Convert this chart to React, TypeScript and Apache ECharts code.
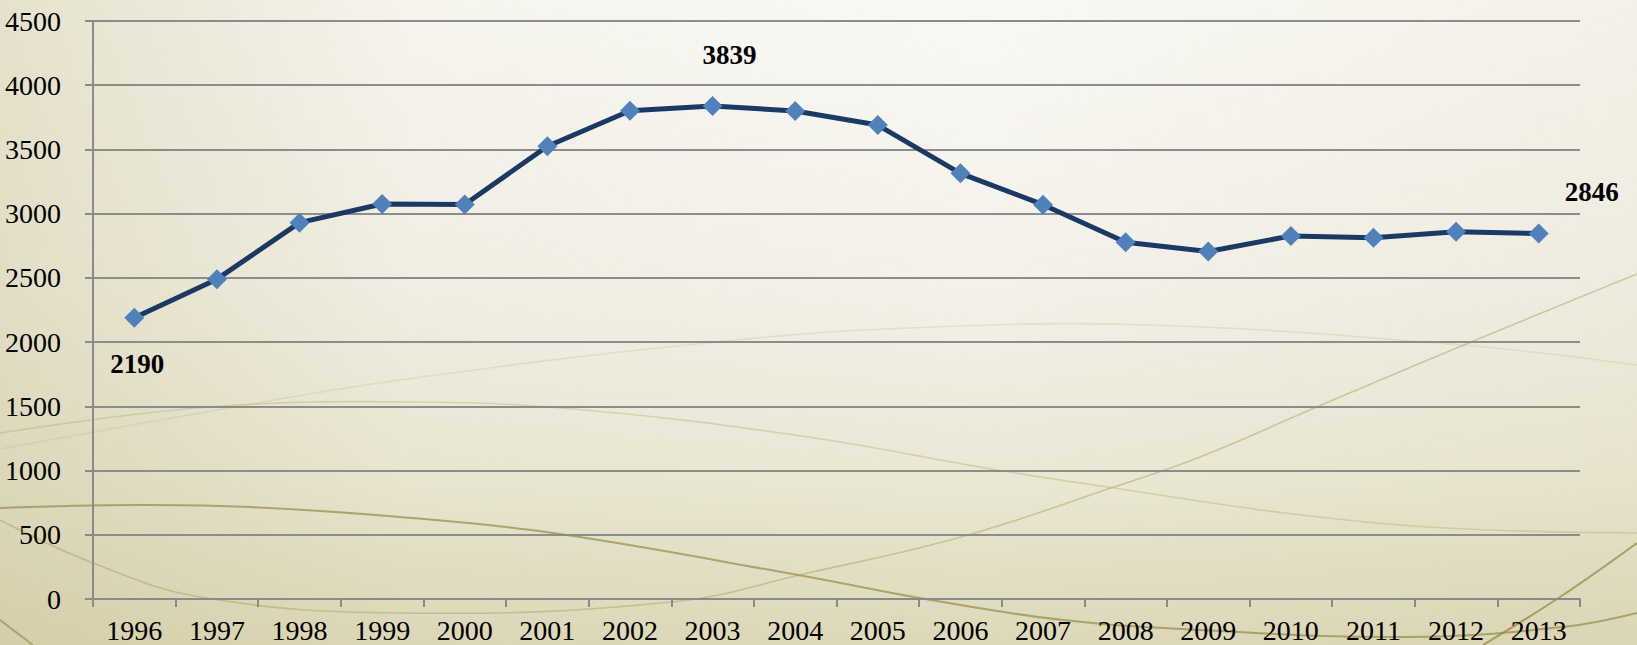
import React, { useEffect, useRef } from "react";
import * as echarts from "echarts";

const years: string[] = [
  "1996", "1997", "1998", "1999", "2000", "2001", "2002", "2003", "2004",
  "2005", "2006", "2007", "2008", "2009", "2010", "2011", "2012", "2013",
];
const values: number[] = [
  2190, 2490, 2930, 3075, 3071, 3525, 3801, 3839, 3799,
  3690, 3314, 3070, 2778, 2705, 2827, 2813, 2860, 2846,
];
const labelled: { [k: number]: number[] } = { 0: [3, 46], 7: [17, -51], 17: [53, -41] };
const yTicks = { min: 0, max: 4500, interval: 500 };

const W = 1637;
const H = 645;

const curves: { pts: number[][]; color: string; width: number }[] = [
  { pts: [[0, 508], [136, 505], [250, 507], [400, 517], [553, 533], [798, 575], [931, 600], [1063, 620], [1200, 630], [1407, 637], [1563, 627], [1637, 613]], color: "rgba(150,138,70,0.7)", width: 2 },
  { pts: [[0, 520], [93, 563], [200, 597], [400, 613], [672, 602], [808, 573], [961, 537], [1114, 487], [1200, 457], [1333, 400], [1500, 330], [1637, 274]], color: "rgba(165,155,90,0.45)", width: 1.6 },
  { pts: [[1483, 645], [1560, 597], [1637, 543]], color: "rgba(150,138,70,0.75)", width: 2 },
  { pts: [[0, 433], [209, 407], [418, 402], [584, 410], [808, 437], [997, 470], [1114, 488], [1285, 513], [1447, 528], [1637, 533]], color: "rgba(170,160,100,0.32)", width: 1.6 },
  { pts: [[0, 449], [200, 413], [400, 380], [706, 343], [910, 328], [1148, 325], [1462, 345], [1637, 365]], color: "rgba(180,170,120,0.22)", width: 1.6 },
  { pts: [[0, 620], [33, 645]], color: "rgba(150,138,70,0.65)", width: 2 },
];

export default function App() {
  const ref = useRef<HTMLDivElement>(null);
  useEffect(() => {
    document.body.style.margin = "0";
    const chart = echarts.init(ref.current!, null, { renderer: "svg" });
    const font = "'Liberation Serif', 'Times New Roman', serif";
    const option: any = {
      animation: false,
      backgroundColor: "transparent",
      graphic: [
        {
          type: "rect",
          z: -10,
          silent: true,
          shape: { x: 0, y: 0, width: W, height: H },
          style: {
            fill: new echarts.graphic.LinearGradient(0, 0, 0, 1, [
              { offset: 0, color: "#f9f8f4" },
              { offset: 0.45, color: "#f3f1e8" },
              { offset: 0.75, color: "#eae7d4" },
              { offset: 1, color: "#ddd8b8" },
            ]),
          },
        },
        {
          type: "rect",
          z: -9,
          silent: true,
          shape: { x: 0, y: 0, width: W, height: H },
          style: {
            fill: new echarts.graphic.LinearGradient(0, 0, 1, 0, [
              { offset: 0, color: "rgba(200,192,145,0.4)" },
              { offset: 0.25, color: "rgba(200,192,145,0.07)" },
              { offset: 0.6, color: "rgba(200,192,145,0)" },
              { offset: 1, color: "rgba(200,192,145,0.12)" },
            ]),
          },
        },
        ...curves.map((c) => ({
          type: "polyline",
          z: -8,
          silent: true,
          shape: { points: c.pts, smooth: 0.4 },
          style: { stroke: c.color, lineWidth: c.width, fill: "none" },
        })),
      ],
      grid: { left: 93, right: W - 1580, top: 21, bottom: H - 599, containLabel: false },
      xAxis: {
        type: "category",
        data: years,
        boundaryGap: true,
        axisLine: { show: true, lineStyle: { color: "#8a8a8a", width: 2 } },
        axisTick: { show: true, length: 8, inside: false, alignWithLabel: false, lineStyle: { color: "#8a8a8a", width: 2 } },
        axisLabel: { color: "#000", fontFamily: font, fontSize: 28, margin: 17, interval: 0 },
        splitLine: { show: false },
      },
      yAxis: {
        type: "value",
        min: yTicks.min,
        max: yTicks.max,
        interval: yTicks.interval,
        axisLine: { show: true, lineStyle: { color: "#8a8a8a", width: 2 } },
        axisTick: { show: true, length: 8, lineStyle: { color: "#8a8a8a", width: 2 } },
        axisLabel: { color: "#000", fontFamily: font, fontSize: 28, margin: 32, formatter: (v: number) => String(v) },
        splitLine: { show: true, lineStyle: { color: "#8c8c8c", width: 2 } },
      },
      series: [
        {
          type: "line",
          data: values.map((v, i) => {
            const off = labelled[i];
            if (!off) return v;
            return {
              value: v,
              label: {
                show: true,
                position: "inside",
                offset: off,
                formatter: "{c}",
                color: "#000",
                fontFamily: font,
                fontWeight: "bold",
                fontSize: 27,
              },
            };
          }),
          symbol: "diamond",
          symbolSize: 20,
          lineStyle: { color: "#1a3a64", width: 5 },
          itemStyle: { color: "#4f81bd" },
          label: { show: false },
          z: 5,
        },
      ],
    };
    chart.setOption(option);
    return () => chart.dispose();
  }, []);
  return (
    <div
      ref={ref}
      style={{ position: "absolute", left: 0, top: 0, width: W, height: H }}
    />
  );
}
